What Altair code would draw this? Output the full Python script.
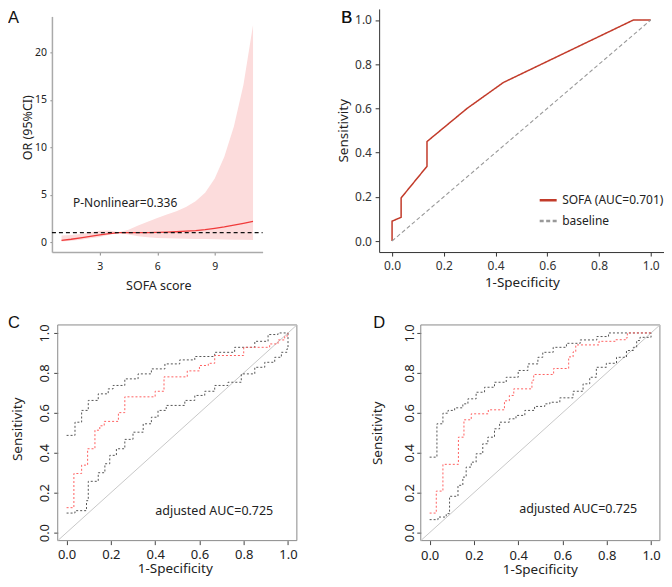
import altair as alt
import pandas as pd

FONT = "Noto Sans"
LETTER_FONT = "Liberation Sans"

# ---------------- Panel A: OR (95%CI) vs SOFA score ----------------
sofa_score = [1, 1.5, 2, 2.5, 3, 3.5, 4, 4.5, 5, 5.5, 6, 6.5, 7, 7.5, 8, 8.5, 9, 9.5, 10, 10.5, 11]
or_est = [0.18, 0.30, 0.45, 0.60, 0.77, 0.90, 1.00, 1.00, 1.00, 1.00, 1.02, 1.05, 1.09, 1.15, 1.22, 1.32, 1.45, 1.60, 1.78, 1.97, 2.18]
or_lower = [0.06, 0.15, 0.25, 0.40, 0.55, 0.78, 0.97, 0.80, 0.62, 0.50, 0.44, 0.41, 0.38, 0.36, 0.34, 0.32, 0.30, 0.28, 0.26, 0.24, 0.22]
or_upper = [0.70, 0.75, 0.86, 1.02, 1.20, 1.22, 1.05, 1.30, 1.75, 2.15, 2.55, 2.90, 3.25, 3.70, 4.30, 5.20, 6.70, 9.00, 12.2, 16.6, 22.9]
ref_or = [1.0]
p_text = "P-Nonlinear=0.336"

# ---------------- Panel B: ROC of SOFA ----------------
b_fpr = [0, 0, 0.035, 0.035, 0.135, 0.135, 0.29, 0.43, 0.933, 1.0]
b_tpr = [0, 0.09, 0.107, 0.195, 0.338, 0.45, 0.60, 0.717, 1.0, 1.0]
b_series = ["SOFA (AUC=0.701)", "baseline"]

# ---------------- Panel C: adjusted ROC with CI ----------------
c_roc_x = [0, 0.033, 0.068, 0.095, 0.128, 0.15, 0.17, 0.234, 0.263, 0.4, 0.44, 0.545, 0.6, 0.64, 0.669, 0.8, 0.917, 0.955, 0.985, 1.0]
c_roc_y = [0.125, 0.296, 0.338, 0.42, 0.513, 0.535, 0.557, 0.601, 0.68, 0.708, 0.78, 0.81, 0.837, 0.848, 0.887, 0.928, 0.945, 0.965, 0.985, 1.0]
c_up_x = [0, 0.038, 0.068, 0.098, 0.143, 0.188, 0.21, 0.263, 0.323, 0.383, 0.444, 0.511, 0.579, 0.669, 0.759, 0.85, 0.91, 0.955, 1.0]
c_up_y = [0.487, 0.553, 0.612, 0.662, 0.695, 0.72, 0.737, 0.77, 0.795, 0.82, 0.845, 0.865, 0.882, 0.903, 0.928, 0.958, 0.992, 1.0, 1.0]
c_lo_x = [0, 0.038, 0.09, 0.098, 0.143, 0.173, 0.195, 0.225, 0.263, 0.3, 0.346, 0.383, 0.413, 0.45, 0.534, 0.579, 0.624, 0.669, 0.729, 0.789, 0.85, 0.895, 0.94, 0.97, 0.995, 1.0]
c_lo_y = [0.098, 0.11, 0.16, 0.257, 0.30, 0.345, 0.387, 0.42, 0.467, 0.503, 0.545, 0.578, 0.612, 0.637, 0.662, 0.687, 0.708, 0.737, 0.753, 0.795, 0.828, 0.853, 0.878, 0.903, 0.92, 1.0]

# ---------------- Panel D: adjusted ROC with CI ----------------
d_roc_x = [0, 0.03, 0.06, 0.13, 0.155, 0.188, 0.265, 0.338, 0.36, 0.38, 0.462, 0.47, 0.56, 0.628, 0.648, 0.66, 0.765, 0.84, 0.885, 0.893, 1.0]
d_roc_y = [0.098, 0.208, 0.342, 0.478, 0.565, 0.595, 0.615, 0.66, 0.687, 0.72, 0.763, 0.792, 0.822, 0.88, 0.905, 0.94, 0.958, 0.966, 0.975, 1.0, 1.0]
d_up_x = [0, 0.033, 0.06, 0.083, 0.113, 0.15, 0.173, 0.21, 0.248, 0.293, 0.346, 0.4, 0.444, 0.489, 0.511, 0.558, 0.618, 0.68, 0.755, 0.808, 1.0]
d_up_y = [0.378, 0.545, 0.598, 0.612, 0.625, 0.645, 0.67, 0.703, 0.728, 0.753, 0.778, 0.812, 0.845, 0.878, 0.903, 0.928, 0.948, 0.965, 0.982, 1.0, 1.0]
d_lo_x = [0, 0.038, 0.075, 0.09, 0.128, 0.15, 0.165, 0.188, 0.21, 0.24, 0.263, 0.293, 0.316, 0.36, 0.39, 0.43, 0.474, 0.52, 0.543, 0.588, 0.648, 0.693, 0.723, 0.753, 0.798, 0.844, 0.889, 0.92, 0.935, 0.95, 1.0]
d_lo_y = [0.065, 0.078, 0.095, 0.182, 0.237, 0.278, 0.328, 0.353, 0.395, 0.445, 0.478, 0.52, 0.553, 0.57, 0.587, 0.612, 0.632, 0.645, 0.653, 0.675, 0.708, 0.745, 0.778, 0.828, 0.848, 0.878, 0.912, 0.928, 0.962, 0.978, 1.0]
auc_text = "adjusted AUC=0.725"

roc_ticks = [0, 0.2, 0.4, 0.6, 0.8, 1.0]

# ======================= Panel A =======================
dfA = pd.DataFrame({"sofa": sofa_score, "or": or_est, "lo": or_lower, "hi": or_upper})
dfA_ref = pd.DataFrame({"x": [0.5], "x2": [11.5], "y": ref_or})

sxA = alt.Scale(domain=[0.5, 11.5], nice=False, zero=False)
syA = alt.Scale(domain=[-1.05, 23.8], range=[244, 8], nice=False, zero=False)
axA_x = alt.Axis(values=[3, 6, 9], title="SOFA score", domainColor="#aaaaaa", domainWidth=1.5,
                 tickColor="#888888", tickSize=3, labelFontSize=10.5, labelColor="#222222",
                 labelPadding=6, titleFontSize=12.5, titleColor="#222222", titleX=106.5, titleY=33,
                 titleBaseline="middle", titleAlign="center", grid=False)
axA_y = alt.Axis(values=[0, 5, 10, 15, 20], title="OR (95%CI)", domainColor="#aaaaaa", domainWidth=1.5,
                 tickColor="#888888", tickSize=2, labelFontSize=10.5, labelColor="#222222",
                 labelPadding=3.5, titleFontSize=12.5, titleColor="#222222", titleX=-24, titleY=119,
                 titleAngle=270, titleBaseline="middle", titleAlign="center", grid=False)

bandA = alt.Chart(dfA).mark_area(color="#fcdcdc", opacity=1).encode(
    x=alt.X("sofa:Q", scale=sxA, axis=axA_x),
    y=alt.Y("lo:Q", scale=syA, axis=axA_y),
    y2="hi:Q",
)
lineA = alt.Chart(dfA).mark_line(color="#f03a3a", strokeWidth=1.3).encode(
    x=alt.X("sofa:Q", scale=sxA, axis=axA_x),
    y=alt.Y("or:Q", scale=syA, axis=axA_y),
)
refA = alt.Chart(dfA_ref).mark_rule(color="#111111", strokeWidth=1.1, strokeDash=[4, 3]).encode(
    x=alt.X("x:Q", scale=sxA, axis=axA_x),
    x2="x2:Q",
    y=alt.Y("y:Q", scale=syA, axis=axA_y),
)
textA = alt.Chart(dfA_ref).mark_text(align="left", baseline="middle", fontSize=12, color="#222222").encode(
    x=alt.datum(1.6), y=alt.datum(4.1), text=alt.value(p_text)
)
letterA = alt.Chart(dfA_ref).mark_text(align="left", baseline="top", fontSize=16.5, font=LETTER_FONT,
                                       color="#111111").encode(
    x=alt.value(-44), y=alt.value(2), text=alt.value("A")
)
panelA = alt.layer(bandA, lineA, refA, textA, letterA).properties(width=211, height=244)

# ======================= Panel B =======================
dfB = pd.DataFrame({"fpr": b_fpr, "tpr": b_tpr, "i": list(range(len(b_fpr))), "series": b_series[0]})
dfB_base = pd.DataFrame({"fpr": [0, 1], "tpr": [0, 1], "i": [0, 1], "series": b_series[1]})

sBx = alt.Scale(domain=[-0.05, 1.05], nice=False, zero=False)
sBy = alt.Scale(domain=[-0.05, 1.05], range=[244, 0.5], nice=False, zero=False)
axB_common = dict(values=roc_ticks, format=".1f", domainColor="#333333", tickColor="#333333",
                  tickSize=4, labelFontSize=12, labelColor="#333333", titleFontSize=13.5,
                  titleColor="#222222", titleBaseline="middle", titleAlign="center", grid=False)
axB_x = alt.Axis(title="1-Specificity", labelPadding=4.5, titleX=143, titleY=30, **axB_common)
axB_y = alt.Axis(title="Sensitivity", labelPadding=3.7, titleX=-36, titleY=122, titleAngle=270, **axB_common)

colB = alt.Color("series:N", scale=alt.Scale(domain=b_series, range=["#c23b2a", "#999999"]),
                 legend=alt.Legend(orient="none", legendX=487, legendY=182, title=None, padding=0,
                                   symbolType="stroke", symbolSize=289, symbolStrokeWidth=2.5,
                                   labelFontSize=12, labelColor="#222222", labelOffset=4,
                                   rowPadding=5))
dashB = alt.StrokeDash("series:N", scale=alt.Scale(domain=b_series, range=[[1, 0], [4, 2.5]]), legend=None)

rocB = alt.Chart(dfB).mark_line(strokeWidth=1.5).encode(
    x=alt.X("fpr:Q", scale=sBx, axis=axB_x),
    y=alt.Y("tpr:Q", scale=sBy, axis=axB_y),
    color=colB, strokeDash=dashB, order=alt.Order("i:Q"),
)
baseB = alt.Chart(dfB_base).mark_line(strokeWidth=1.1).encode(
    x=alt.X("fpr:Q", scale=sBx, axis=axB_x),
    y=alt.Y("tpr:Q", scale=sBy, axis=axB_y),
    color=colB, strokeDash=dashB, order=alt.Order("i:Q"),
)
letterB = alt.Chart(dfB_base).mark_text(align="left", baseline="top", fontSize=16.5, font=LETTER_FONT,
                                        color="#111111").encode(
    x=alt.value(-38), y=alt.value(2), text=alt.value("B")
)
panelB = alt.layer(rocB, baseB, letterB).properties(width=285, height=244)


# ======================= Panels C & D =======================
def roc_panel(letter, roc_x, roc_y, up_x, up_y, lo_x, lo_y, width, x_range, y_off,
              ylab_pad, xlab_pad, ytitle_x, ytitle_y, xtitle_x, xtitle_y, letter_x, text_x, text_y):
    sx = alt.Scale(domain=[-0.04, 1.04], range=x_range, nice=False, zero=False)
    sy = alt.Scale(domain=[-0.04, 1.04], nice=False, zero=False)
    common = dict(values=roc_ticks, format=".1f", domain=False, tickColor="#444444", tickSize=4,
                  labelFontSize=13, labelColor="#222222", titleFontSize=13.5, titleColor="#222222",
                  titleBaseline="middle", titleAlign="center", grid=False)
    ax_x = alt.Axis(title="1-Specificity", labelPadding=xlab_pad, titleX=xtitle_x, titleY=xtitle_y, **common)
    ax_y = alt.Axis(title="Sensitivity", labelPadding=ylab_pad, labelAngle=270, labelAlign="center",
                    labelBaseline="alphabetic", offset=y_off, titleX=ytitle_x, titleY=ytitle_y,
                    titleAngle=270, **common)

    dfbox = pd.DataFrame({"x": [-0.04], "x2": [1.04], "y": [-0.04], "y2": [1.04]})
    dfdiag = pd.DataFrame({"x": [-0.04, 1.04], "y": [-0.04, 1.04]})
    dfroc = pd.DataFrame({"x": roc_x, "y": roc_y})
    dfup = pd.DataFrame({"x": up_x, "y": up_y})
    dflo = pd.DataFrame({"x": lo_x, "y": lo_y})

    def enc(ch):
        return ch.encode(x=alt.X("x:Q", scale=sx, axis=ax_x), y=alt.Y("y:Q", scale=sy, axis=ax_y))

    box = alt.Chart(dfbox).mark_rect(fill="white", fillOpacity=0, stroke="#8a8a8a", strokeWidth=1).encode(
        x=alt.X("x:Q", scale=sx, axis=ax_x), x2="x2:Q",
        y=alt.Y("y:Q", scale=sy, axis=ax_y), y2="y2:Q",
    )
    diag = enc(alt.Chart(dfdiag).mark_line(color="#c8c8c8", strokeWidth=1))
    up = enc(alt.Chart(dfup).mark_line(color="#555555", strokeWidth=1, strokeDash=[2, 2],
                                       interpolate="step-after"))
    lo = enc(alt.Chart(dflo).mark_line(color="#555555", strokeWidth=1, strokeDash=[2, 2],
                                       interpolate="step-after"))
    roc = enc(alt.Chart(dfroc).mark_line(color="#ff6060", strokeWidth=1, strokeDash=[2, 2],
                                         interpolate="step-after"))
    txt = alt.Chart(dfbox).mark_text(align="center", baseline="middle", fontSize=12.5, color="#222222").encode(
        x=alt.datum(text_x), y=alt.datum(text_y), text=alt.value(auc_text)
    )
    let = alt.Chart(dfbox).mark_text(align="left", baseline="top", fontSize=16.5, font=LETTER_FONT,
                                     color="#111111").encode(
        x=alt.value(letter_x), y=alt.value(-10), text=alt.value(letter)
    )
    # invisible spacer that reserves room below the axis title inside the page
    spacer = alt.Chart(dfbox).mark_rect(fill="white", fillOpacity=0, strokeOpacity=0).encode(
        x=alt.value(100), x2=alt.value(101), y=alt.value(250), y2=alt.value(253)
    )
    return alt.layer(box, diag, up, lo, roc, txt, let, spacer).properties(width=width, height=216)


panelC = roc_panel("C", c_roc_x, c_roc_y, c_up_x, c_up_y, c_lo_x, c_lo_y,
                   width=245.3, x_range=[5.8, 245.3], y_off=-5.8, ylab_pad=5, xlab_pad=3.5,
                   ytitle_x=-40, ytitle_y=104, xtitle_x=123, xtitle_y=28, letter_x=-44,
                   text_x=0.667, text_y=0.11)
panelD = roc_panel("D", d_roc_x, d_roc_y, d_up_x, d_up_y, d_lo_x, d_lo_y,
                   width=281.2, x_range=[41.7, 281.2], y_off=-41.7, ylab_pad=3.5, xlab_pad=5,
                   ytitle_x=-43.4, ytitle_y=108, xtitle_x=161, xtitle_y=28.5, letter_x=-6,
                   text_x=0.671, text_y=0.12)

chart = alt.concat(panelA, panelB, panelC, panelD, columns=2,
                   spacing=alt.RowColnumber(row=73, column=81.7), bounds="flush").properties(
    padding=0
).configure_view(stroke=None).configure_axis(
    labelFont=FONT, titleFont=FONT, titleFontWeight="normal"
).configure_legend(labelFont=FONT).configure_text(font=FONT)

chart.save("out.html", embed_options={"renderer": "svg", "actions": False})
